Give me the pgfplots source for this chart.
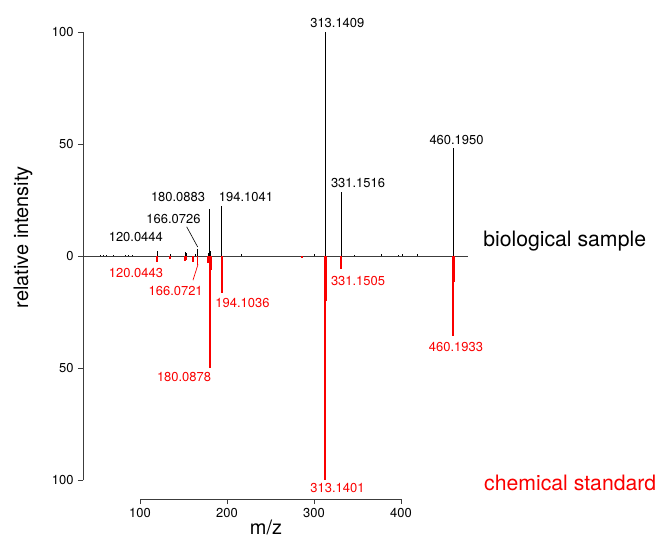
\documentclass[border=0pt]{standalone}
\usepackage{pgfplots}
\pgfplotsset{compat=1.18}
\usepackage{fontspec}
\setmainfont{TeX Gyre Heros}
\definecolor{specred}{RGB}{250,0,0}
\definecolor{axgray}{RGB}{60,60,60}
\newcommand{\lab}{\fontsize{13}{15}\selectfont}
\newcommand{\bigf}{\fontsize{20}{24}\selectfont}
\newcommand{\serf}{\fontsize{21.3}{25}\selectfont}
\begin{document}
\begin{tikzpicture}
\begin{axis}[
  scale only axis, width=385bp, height=467bp,
  xmin=34.48, xmax=477, ymin=-108.3, ymax=100,
  axis x line*=bottom, axis y line*=left,
  axis line style={draw=none},
  clip=false,
  xtick={100,200,300,400},
  ytick={-100,-50,0,50,100},
  yticklabels={100,50,0,50,100},
  tick align=outside,
  major tick length=5bp,
  tick style={axgray, line width=0.8bp},
  tick label style={font=\lab},
  /pgf/number format/assume math mode=true,
  xticklabel style={yshift=-1bp},
  yticklabel style={xshift=-1bp},
]
% axis lines
\draw[axgray, line width=0.8bp] (axis cs:34.48,-100) -- (axis cs:34.48,100);
\draw[axgray, line width=0.8bp] (axis cs:100,-108.3) -- (axis cs:400,-108.3);
% baseline
\addplot[axgray, line width=0.9bp, no marks] coordinates {(34.48,0) (477,0)};
% biological sample (black, upward)
\addplot[ycomb, black, line width=0.9bp, no marks] coordinates {
(55,0.6) (58,0.5) (62,0.6) (70,0.4) (83,0.5) (87,0.5) (91,0.5)
(120.0444,2.2) (134.5,0.8) (152.1,1.8) (153.1,1.5) (163.2,1.0)
(166.0726,3.2) (178.1,1.5) (180.0883,21.0) (181.1,2.5) (194.1041,22.4)
(216.1,0.8) (300,0.8) (313.1409,100) (331.1516,28.5) (347,0.7)
(378,0.8) (396.5,0.7) (402,0.9) (418.4,0.8) (460.1950,48.1)
};
% chemical standard (red, downward)
\addplot[ycomb, specred, line width=1.9bp, no marks] coordinates {
(120.0443,-2.5) (134.5,-1.2) (152.1,-2.0) (153.1,-1.5) (161.1,-2.5)
(166.0721,-4.0) (178.1,-3.0) (180.0878,-49.9) (181.1,-6.0)
(194.1036,-16.5) (285.8,-0.8) (313.1401,-100) (314.14,-20)
(331.1505,-5.5) (460.1933,-35.7) (461.19,-11.5)
};
% leader lines
\draw[black, line width=0.6bp] (axis cs:153.7,13.1) -- (axis cs:166.3,4.1);
\draw[specred, line width=0.7bp] (axis cs:160.9,-10.7) -- (axis cs:166.7,-3.6);
% black labels
\node[font=\lab] at (axis cs:326.8,103.8) {313.1409};
\node[font=\lab] at (axis cs:463.8,51.7) {460.1950};
\node[font=\lab] at (axis cs:350.6,32.5) {331.1516};
\node[font=\lab] at (axis cs:143.7,26.3) {180.0883};
\node[font=\lab] at (axis cs:221.8,26.3) {194.1041};
\node[font=\lab] at (axis cs:138.5,16.5) {166.0726};
\node[font=\lab] at (axis cs:95.2,8.6) {120.0444};
% red labels
\node[font=\lab, text=specred] at (axis cs:95.4,-7.6) {120.0443};
\node[font=\lab, text=specred] at (axis cs:141.0,-15.5) {166.0721};
\node[font=\lab, text=specred] at (axis cs:217.8,-20.9) {194.1036};
\node[font=\lab, text=specred] at (axis cs:150.6,-53.8) {180.0878};
\node[font=\lab, text=specred] at (axis cs:350.6,-11.1) {331.1505};
\node[font=\lab, text=specred] at (axis cs:463.2,-40.7) {460.1933};
\node[font=\lab, text=specred] at (axis cs:327,-103.5) {313.1401};
% axis titles and series names
\node[font=\bigf, rotate=90] at (axis cs:-34.5,8.5) {relative intensity};
\node[font=\bigf] at (axis cs:244.8,-121.2) {m/z};
\node[font=\serf, anchor=west, inner sep=0pt] at (axis cs:494.3,6.7) {biological sample};
\node[font=\serf, anchor=west, inner sep=0pt, text=specred] at (axis cs:495.4,-101.2) {chemical standard};
\end{axis}
\pgfresetboundingbox
\path (-83bp,-52bp) rectangle (579bp,499bp);
\end{tikzpicture}
\end{document}
